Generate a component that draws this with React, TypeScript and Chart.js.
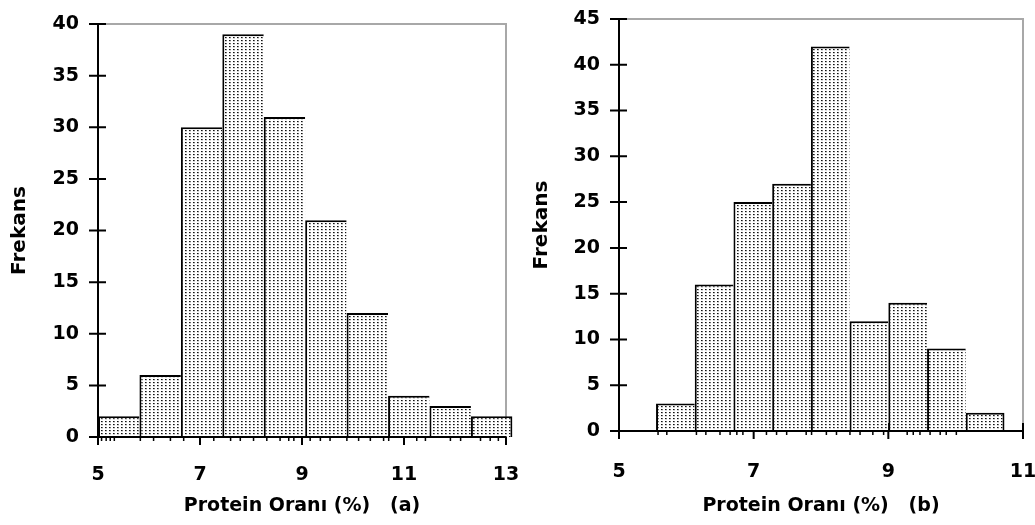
import { useEffect, useRef } from 'react';
import { Chart, registerables } from 'chart.js';

Chart.register(...registerables);

// Panel (a): class boundaries and frequencies
const binEdgesA = [5, 5.8125, 6.625, 7.4375, 8.25, 9.0625, 9.875, 10.6875, 11.5, 12.3125, 13.125];
const countsA = [2, 6, 30, 39, 31, 21, 12, 4, 3, 2];
const xTicksA = [5, 7, 9, 11, 13];
const yTicksA = [0, 5, 10, 15, 20, 25, 30, 35, 40];
// individual measurements marked under the axis
const rugA = [5.07, 5.16, 5.24, 5.32, 5.83, 6.09, 6.42, 6.68, 7.27, 7.6, 7.79, 8.05, 8.31, 8.57, 8.74, 8.84, 9.16, 9.36, 9.55, 9.88, 10.11, 10.34, 10.6, 10.7, 11.25, 11.42, 11.91, 12.11, 12.5, 12.69, 12.85];

// Panel (b)
const binEdgesB = [5.55, 6.125, 6.7, 7.275, 7.85, 8.425, 9.0, 9.575, 10.15, 10.725];
const countsB = [3, 16, 25, 27, 42, 12, 14, 9, 2];
const xTicksB = [5, 7, 9, 11];
const yTicksB = [0, 5, 10, 15, 20, 25, 30, 35, 40, 45];
const rugB = [5.58, 5.71, 6.15, 6.29, 6.5, 6.65, 6.75, 6.84, 7.19, 7.34, 7.49, 7.78, 7.86, 8.08, 8.23, 8.43, 8.58, 8.77, 8.93, 9.28, 9.37, 9.47, 9.62, 9.77, 9.86, 10.01];

const xTitleA = 'Protein Oranı (%)   (a)';
const xTitleB = 'Protein Oranı (%)   (b)';
const yTitle = 'Frekans';

const FONT = "'DejaVu Sans', 'Liberation Sans', sans-serif";

// dotted fill used for the bars
function dotPattern(ctx: CanvasRenderingContext2D): CanvasPattern | string {
  const tile = document.createElement('canvas');
  tile.width = 4;
  tile.height = 3;
  const g = tile.getContext('2d');
  if (!g) return '#d0d0d0';
  g.fillStyle = '#ffffff';
  g.fillRect(0, 0, 4, 3);
  g.fillStyle = '#111111';
  g.fillRect(1, 1, 1, 1);
  g.fillStyle = '#6a6a6a';
  g.fillRect(2, 1, 1, 1);
  g.fillStyle = '#d8d8d8';
  g.fillRect(1, 2, 2, 1);
  return ctx.createPattern(tile, 'repeat') || '#d0d0d0';
}

function axisMarks(xTicks: number[], yTicks: number[], rug: number[]) {
  return {
    id: 'axisMarks',
    beforeDatasetsDraw(chart: any) {
      const { ctx, chartArea: a } = chart;
      const xs = chart.scales.x;
      const ys = chart.scales.y;
      ctx.save();
      // light frame on top and right
      ctx.lineWidth = 2;
      ctx.strokeStyle = '#a8a8a8';
      ctx.beginPath();
      ctx.moveTo(a.left, a.top);
      ctx.lineTo(a.right, a.top);
      ctx.lineTo(a.right, a.bottom);
      ctx.stroke();
      // crossing tick marks
      ctx.strokeStyle = '#000000';
      ctx.beginPath();
      for (const v of yTicks) {
        const py = ys.getPixelForValue(v);
        ctx.moveTo(a.left - 9, py);
        ctx.lineTo(a.left + 8, py);
      }
      for (const v of xTicks) {
        const px = xs.getPixelForValue(v);
        ctx.moveTo(px, a.bottom - 8);
        ctx.lineTo(px, a.bottom + 8);
      }
      ctx.stroke();
      ctx.restore();
    },
    afterDatasetsDraw(chart: any) {
      const { ctx, chartArea: a } = chart;
      const xs = chart.scales.x;
      ctx.save();
      ctx.strokeStyle = '#000000';
      ctx.lineWidth = 2;
      ctx.beginPath();
      ctx.moveTo(a.left, a.top);
      ctx.lineTo(a.left, a.bottom + 8);
      ctx.moveTo(a.left - 9, a.bottom);
      ctx.lineTo(a.right, a.bottom);
      ctx.stroke();
      ctx.lineWidth = 1.5;
      ctx.beginPath();
      for (const v of rug) {
        const px = xs.getPixelForValue(v);
        ctx.moveTo(px, a.bottom);
        ctx.lineTo(px, a.bottom + 4);
      }
      ctx.stroke();
      ctx.restore();
    },
  };
}

type PanelProps = {
  edges: number[];
  counts: number[];
  xTicks: number[];
  yTicks: number[];
  rug: number[];
  xTitle: string;
  left: number;
  width: number;
  padTop: number;
  padRight: number;
  yAxisWidth: number;
  xAxisHeight: number;
  xLabelPad: number;
  yTitlePad: number;
};

function Histogram(p: PanelProps) {
  const ref = useRef<HTMLCanvasElement>(null);

  useEffect(() => {
    const canvas = ref.current;
    if (!canvas) return;
    const ctx = canvas.getContext('2d');
    if (!ctx) return;
    const fill = dotPattern(ctx);
    const centers = p.edges.slice(0, -1).map((e, i) => (e + p.edges[i + 1]) / 2);
    const last = p.counts.length - 1;
    const tickFont = { family: FONT, size: 19, weight: 'bold' as const };
    const xTitleFont = { family: FONT, size: 19, weight: 'bold' as const };
    const yTitleFont = { family: FONT, size: 20, weight: 'bold' as const };

    const chart = new Chart(ctx, {
      type: 'bar',
      data: {
        datasets: [
          {
            data: centers.map((c, i) => ({ x: c, y: p.counts[i] })),
            backgroundColor: fill as any,
            borderColor: '#000000',
            borderWidth: ((c: any) => ({
              left: 2,
              top: 2,
              right: c.dataIndex === last ? 2 : 0,
              bottom: 0,
            })) as any,
            borderSkipped: 'bottom',
            barPercentage: 1,
            categoryPercentage: 1,
            inflateAmount: 0,
            clip: false as any,
          } as any,
        ],
      },
      options: {
        responsive: false,
        animation: false,
        devicePixelRatio: 1,
        layout: { padding: { left: 0, top: p.padTop, right: p.padRight, bottom: 0 } },
        plugins: { legend: { display: false }, tooltip: { enabled: false } },
        scales: {
          x: {
            type: 'linear',
            min: p.xTicks[0],
            max: p.xTicks[p.xTicks.length - 1],
            offset: false,
            grid: { display: false, drawTicks: false },
            border: { display: false },
            ticks: { color: '#000000', font: tickFont, padding: p.xLabelPad, autoSkip: false, maxRotation: 0 },
            afterBuildTicks: (s: any) => {
              s.ticks = p.xTicks.map((v) => ({ value: v }));
            },
            afterFit: (s: any) => {
              s.height = p.xAxisHeight;
              s.paddingLeft = 0;
              s.paddingRight = 0;
            },
            title: {
              display: true,
              text: p.xTitle,
              color: '#000000',
              font: xTitleFont,
              padding: { top: 0, bottom: 8 },
            },
          },
          y: {
            type: 'linear',
            min: p.yTicks[0],
            max: p.yTicks[p.yTicks.length - 1],
            grid: { display: false, drawTicks: false },
            border: { display: false },
            ticks: { color: '#000000', font: tickFont, padding: 19 },
            afterBuildTicks: (s: any) => {
              s.ticks = p.yTicks.map((v) => ({ value: v }));
            },
            afterFit: (s: any) => {
              s.width = p.yAxisWidth;
              s.paddingTop = 0;
              s.paddingBottom = 0;
            },
            title: {
              display: true,
              text: yTitle,
              color: '#000000',
              font: yTitleFont,
              padding: { top: p.yTitlePad, bottom: 0 },
            },
          },
        },
      },
      plugins: [axisMarks(p.xTicks, p.yTicks, p.rug)],
    });

    return () => chart.destroy();
  }, []);

  return (
    <canvas
      ref={ref}
      width={p.width}
      height={525}
      style={{ position: 'absolute', left: p.left, top: 0, width: p.width, height: 525 }}
    />
  );
}

export default function App() {
  return (
    <div style={{ position: 'absolute', left: 0, top: 0, width: 1035, height: 525, background: '#ffffff', overflow: 'hidden' }}>
      <Histogram
        edges={binEdgesA}
        counts={countsA}
        xTicks={xTicksA}
        yTicks={yTicksA}
        rug={rugA}
        xTitle={xTitleA}
        left={0}
        width={520}
        padTop={24}
        padRight={14}
        yAxisWidth={98}
        xAxisHeight={88}
        xLabelPad={27}
        yTitlePad={8}
      />
      <Histogram
        edges={binEdgesB}
        counts={countsB}
        xTicks={xTicksB}
        yTicks={yTicksB}
        rug={rugB}
        xTitle={xTitleB}
        left={520}
        width={515}
        padTop={19}
        padRight={12}
        yAxisWidth={99}
        xAxisHeight={94}
        xLabelPad={30}
        yTitlePad={10}
      />
    </div>
  );
}
